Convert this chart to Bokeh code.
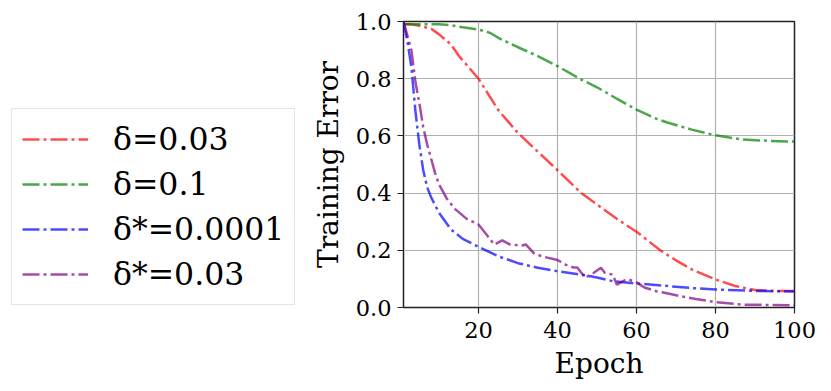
from bokeh.plotting import figure
from bokeh.layouts import row
from bokeh.models import Range1d, Legend, LegendItem, FixedTicker, PrintfTickFormatter
from bokeh.embed import file_html
from bokeh.resources import INLINE

# ---- data ----
red_epochs = [1, 3, 5, 8, 10, 13, 15, 20, 25, 30, 35, 40, 46, 50, 55, 60, 66, 70, 74, 80, 85, 90, 95, 100]
red_vals = [0.99, 0.99, 0.985, 0.975, 0.955, 0.92, 0.88, 0.80, 0.69, 0.61, 0.545, 0.48, 0.40, 0.36, 0.31, 0.265, 0.20, 0.165, 0.133, 0.098, 0.075, 0.061, 0.058, 0.058]

green_epochs = [1, 5, 10, 13, 16, 20, 23, 25, 30, 35, 40, 46, 50, 55, 60, 65, 68, 74, 80, 87, 93, 100]
green_vals = [0.99, 0.99, 0.99, 0.987, 0.98, 0.972, 0.96, 0.943, 0.91, 0.879, 0.844, 0.797, 0.77, 0.73, 0.692, 0.66, 0.646, 0.622, 0.602, 0.587, 0.583, 0.58]

blue_epochs = [1, 2, 3, 4, 5, 6, 7, 8, 10, 13, 16, 20, 25, 30, 35, 40, 46, 50, 54, 60, 68, 74, 80, 90, 100]
blue_vals = [1.0, 0.93, 0.84, 0.69, 0.57, 0.48, 0.42, 0.385, 0.331, 0.273, 0.24, 0.212, 0.179, 0.155, 0.139, 0.127, 0.115, 0.105, 0.092, 0.084, 0.075, 0.068, 0.063, 0.058, 0.056]

purple_epochs = [1, 2, 3, 4, 5, 6, 7, 8, 9, 10, 12, 14, 17, 20, 22, 24, 26, 28, 31, 32, 34, 36, 40, 42, 44, 45, 47, 49, 51, 52, 54, 55, 57, 58, 60, 62, 65, 68, 71, 75, 80, 87, 100]
purple_vals = [1.0, 0.95, 0.90, 0.79, 0.716, 0.63, 0.57, 0.52, 0.47, 0.43, 0.38, 0.345, 0.31, 0.29, 0.255, 0.22, 0.235, 0.22, 0.217, 0.22, 0.19, 0.179, 0.166, 0.15, 0.14, 0.14, 0.104, 0.12, 0.139, 0.121, 0.115, 0.08, 0.095, 0.098, 0.088, 0.07, 0.057, 0.049, 0.04, 0.03, 0.019, 0.01, 0.008]

labels = ["δ=0.03", "δ=0.1", "δ*=0.0001", "δ*=0.03"]
colors = ["#ff0000", "#008000", "#0000ff", "#800080"]
x_ticks = [20, 40, 60, 80, 100]
y_ticks = [0.0, 0.2, 0.4, 0.6, 0.8, 1.0]

FONT = "DejaVu Serif"
DASH = "17 4 3 4"
series = [(red_epochs, red_vals), (green_epochs, green_vals), (blue_epochs, blue_vals), (purple_epochs, purple_vals)]

# ---- main chart ----
p = figure(width=522, height=382, output_backend="svg", toolbar_location=None,
           x_range=Range1d(1, 100), y_range=Range1d(0, 1),
           min_border_left=103, min_border_right=28, min_border_top=21, min_border_bottom=75)
p.background_fill_color = "white"
p.border_fill_color = "white"
p.outline_line_color = "#222222"
p.outline_line_width = 1.5

for (xs, ys), c in zip(series, colors):
    p.line(xs, ys, line_color=c, line_alpha=0.7, line_width=2.5, line_dash=DASH)

for ax in (p.xaxis[0], p.yaxis[0]):
    ax.axis_line_color = None
    ax.major_tick_line_color = "#222222"
    ax.major_tick_line_width = 1.2
    ax.major_tick_out = 6
    ax.major_tick_in = 0
    ax.minor_tick_line_color = None
    ax.major_label_text_font = FONT
    ax.major_label_text_font_size = "22.5px"
    ax.major_label_text_color = "black"
    ax.axis_label_text_font = FONT
    ax.axis_label_text_font_size = "28px"
    ax.axis_label_text_font_style = "normal"
    ax.axis_label_text_color = "black"

p.xaxis.ticker = FixedTicker(ticks=x_ticks)
p.yaxis.ticker = FixedTicker(ticks=y_ticks)
p.yaxis.formatter = PrintfTickFormatter(format="%.1f")
p.xaxis.axis_label = "Epoch"
p.yaxis.axis_label = "Training Error"
p.xaxis.major_label_standoff = 8
p.yaxis.major_label_standoff = 6
p.xaxis.axis_label_standoff = 6
p.yaxis.axis_label_standoff = 8

p.xgrid.ticker = FixedTicker(ticks=x_ticks)
p.ygrid.ticker = FixedTicker(ticks=y_ticks)
p.grid.grid_line_color = "#b0b0b0"
p.grid.grid_line_width = 1.2

# ---- legend panel (separate figure, hidden copies of the same series) ----
lf = figure(width=300, height=382, output_backend="svg", toolbar_location=None,
            x_range=Range1d(1, 100), y_range=Range1d(0, 1),
            x_axis_location=None, y_axis_location=None,
            min_border_left=0, min_border_right=0, min_border_top=0, min_border_bottom=0)
lf.outline_line_color = None
lf.grid.visible = False
lf.background_fill_color = "white"
lf.border_fill_color = "white"
leg_renderers = []
for (xs, ys), c in zip(series, colors):
    r = lf.line(xs, ys, line_color=c, line_alpha=0.7, line_width=2.5, line_dash=DASH, visible=False)
    leg_renderers.append(r)

legend = Legend(items=[LegendItem(label=l, renderers=[r]) for l, r in zip(labels, leg_renderers)],
                location=(11, 2))
legend.label_text_font = FONT
legend.label_text_font_size = "31.5px"
legend.label_text_color = "black"
legend.glyph_width = 66
legend.glyph_height = 40
legend.label_height = 40
legend.label_standoff = 25
legend.spacing = 5
legend.padding = 10
legend.margin = 0
legend.border_line_color = "#cccccc"
legend.border_line_width = 1.2
legend.background_fill_alpha = 1.0
legend.inactive_fill_alpha = 0.0
lf.add_layout(legend, "center")

layout = row(lf, p)
open("out.html", "w").write(file_html(layout, INLINE))
